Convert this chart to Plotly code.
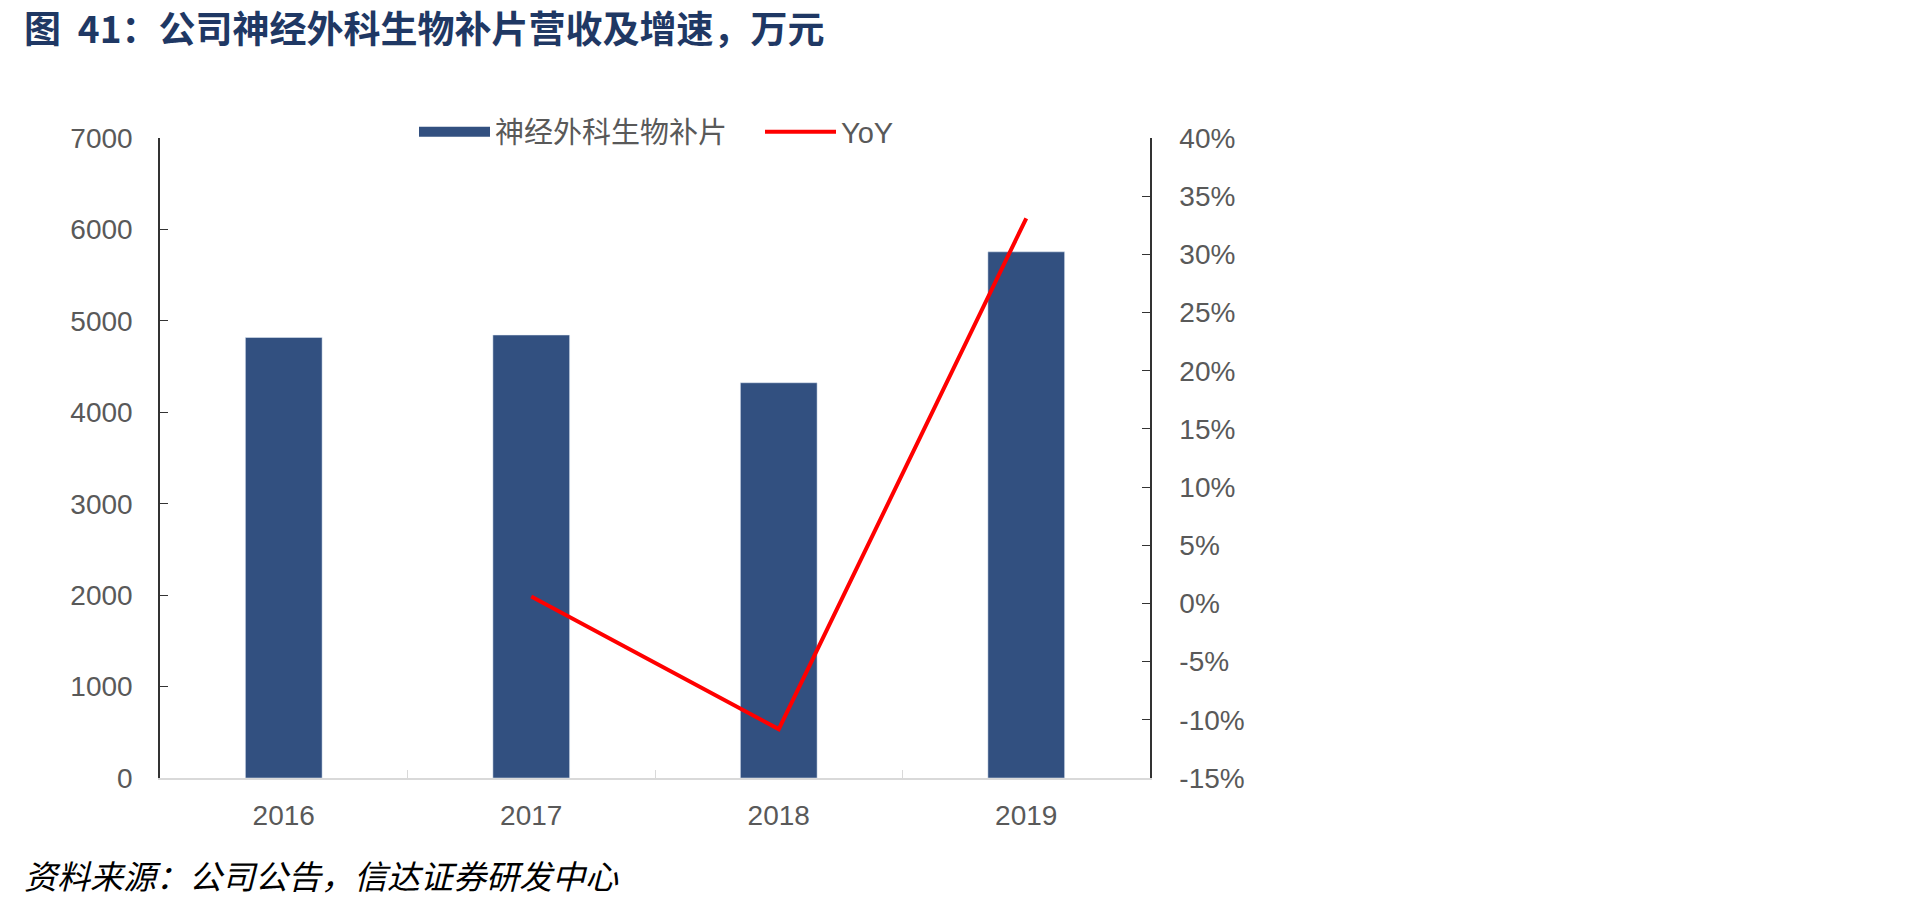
import plotly.graph_objects as go

years = ["2016", "2017", "2018", "2019"]
revenue = [4818, 4845, 4323, 5755]
yoy_years = ["2017", "2018", "2019"]
yoy = [0.006, -0.108, 0.331]

left_ticks = [0, 1000, 2000, 3000, 4000, 5000, 6000, 7000]
right_ticks = [-0.15, -0.10, -0.05, 0.0, 0.05, 0.10, 0.15, 0.20, 0.25, 0.30, 0.35, 0.40]
right_labels = ["-15%", "-10%", "-5%", "0%", "5%", "10%", "15%", "20%", "25%", "30%", "35%", "40%"]

bar_name = "神经外科生物补片"
line_name = "YoY"
title_text = "图  41：公司神经外科生物补片营收及增速，万元"
source_text = "资料来源：公司公告，信达证券研发中心"

BAR_COLOR = "#325080"
LINE_COLOR = "#FF0000"
TICK_FONT = dict(family="Liberation Sans, Arial, sans-serif", size=28, color="#595959")
CJK = "Noto Sans CJK SC, sans-serif"

# plot area in pixels
L, R, T, B = 160, 1150, 138, 778
W, H = 1919, 907

def px_x(p):
    return (p - L) / (R - L)

def px_y(p):
    return (B - p) / (B - T)

fig = go.Figure()
fig.add_trace(go.Bar(x=years, y=revenue, name=bar_name, marker_color=BAR_COLOR,
                     width=0.31, showlegend=False, yaxis="y"))
# legend proxy (wide rectangle symbol like the original)
fig.add_trace(go.Scatter(x=[None], y=[None], mode="lines", name=bar_name,
                         line=dict(color=BAR_COLOR, width=16), yaxis="y"))
fig.add_trace(go.Scatter(x=yoy_years, y=yoy, name=line_name, mode="lines",
                         line=dict(color=LINE_COLOR, width=4), yaxis="y2"))

fig.update_layout(
    width=W, height=H,
    margin=dict(l=L, r=W - R, t=T, b=H - B, autoexpand=False),
    paper_bgcolor="white", plot_bgcolor="white",
    font=dict(family="Liberation Sans, " + CJK, color="#595959"),
    xaxis=dict(type="category", showline=True, linecolor="#D9D9D9", linewidth=1.5,
               ticks="inside", tickson="boundaries", ticklen=8, tickcolor="#D9D9D9",
               tickfont=TICK_FONT, showgrid=False, ticklabelstandoff=12),
    yaxis=dict(range=[0, 7000], tickvals=left_ticks, showline=True, linecolor="#333333",
               linewidth=1.5, ticks="inside", ticklen=8, tickcolor="#333333",
               tickfont=TICK_FONT, showgrid=False, zeroline=False,
               ticklabelstandoff=20),
    yaxis2=dict(range=[-0.15, 0.40], tickvals=right_ticks, ticktext=right_labels,
                overlaying="y", side="right", showline=True, linecolor="#333333",
                linewidth=1.5, ticks="inside", ticklen=8, tickcolor="#333333",
                tickfont=TICK_FONT, showgrid=False, zeroline=False,
                ticklabelstandoff=22),
    legend=dict(orientation="h", x=px_x(414), y=px_y(132), xanchor="left",
                yanchor="middle", font=dict(family="Liberation Sans, " + CJK, size=29,
                                             color="#595959"),
                bgcolor="rgba(0,0,0,0)", itemwidth=71, entrywidth=260,
                tracegroupgap=0),
    annotations=[
        dict(text="<b>" + title_text + "</b>", xref="paper", yref="paper",
             x=px_x(22), y=px_y(27), xanchor="left", yanchor="middle",
             showarrow=False, font=dict(family=CJK, size=37, color="#1F3864")),
        dict(text="<i>" + source_text + "</i>", xref="paper", yref="paper",
             x=px_x(22), y=px_y(875), xanchor="left", yanchor="middle",
             showarrow=False, font=dict(family=CJK, size=33, color="#000000")),
    ],
)

fig.write_html("out.html")
